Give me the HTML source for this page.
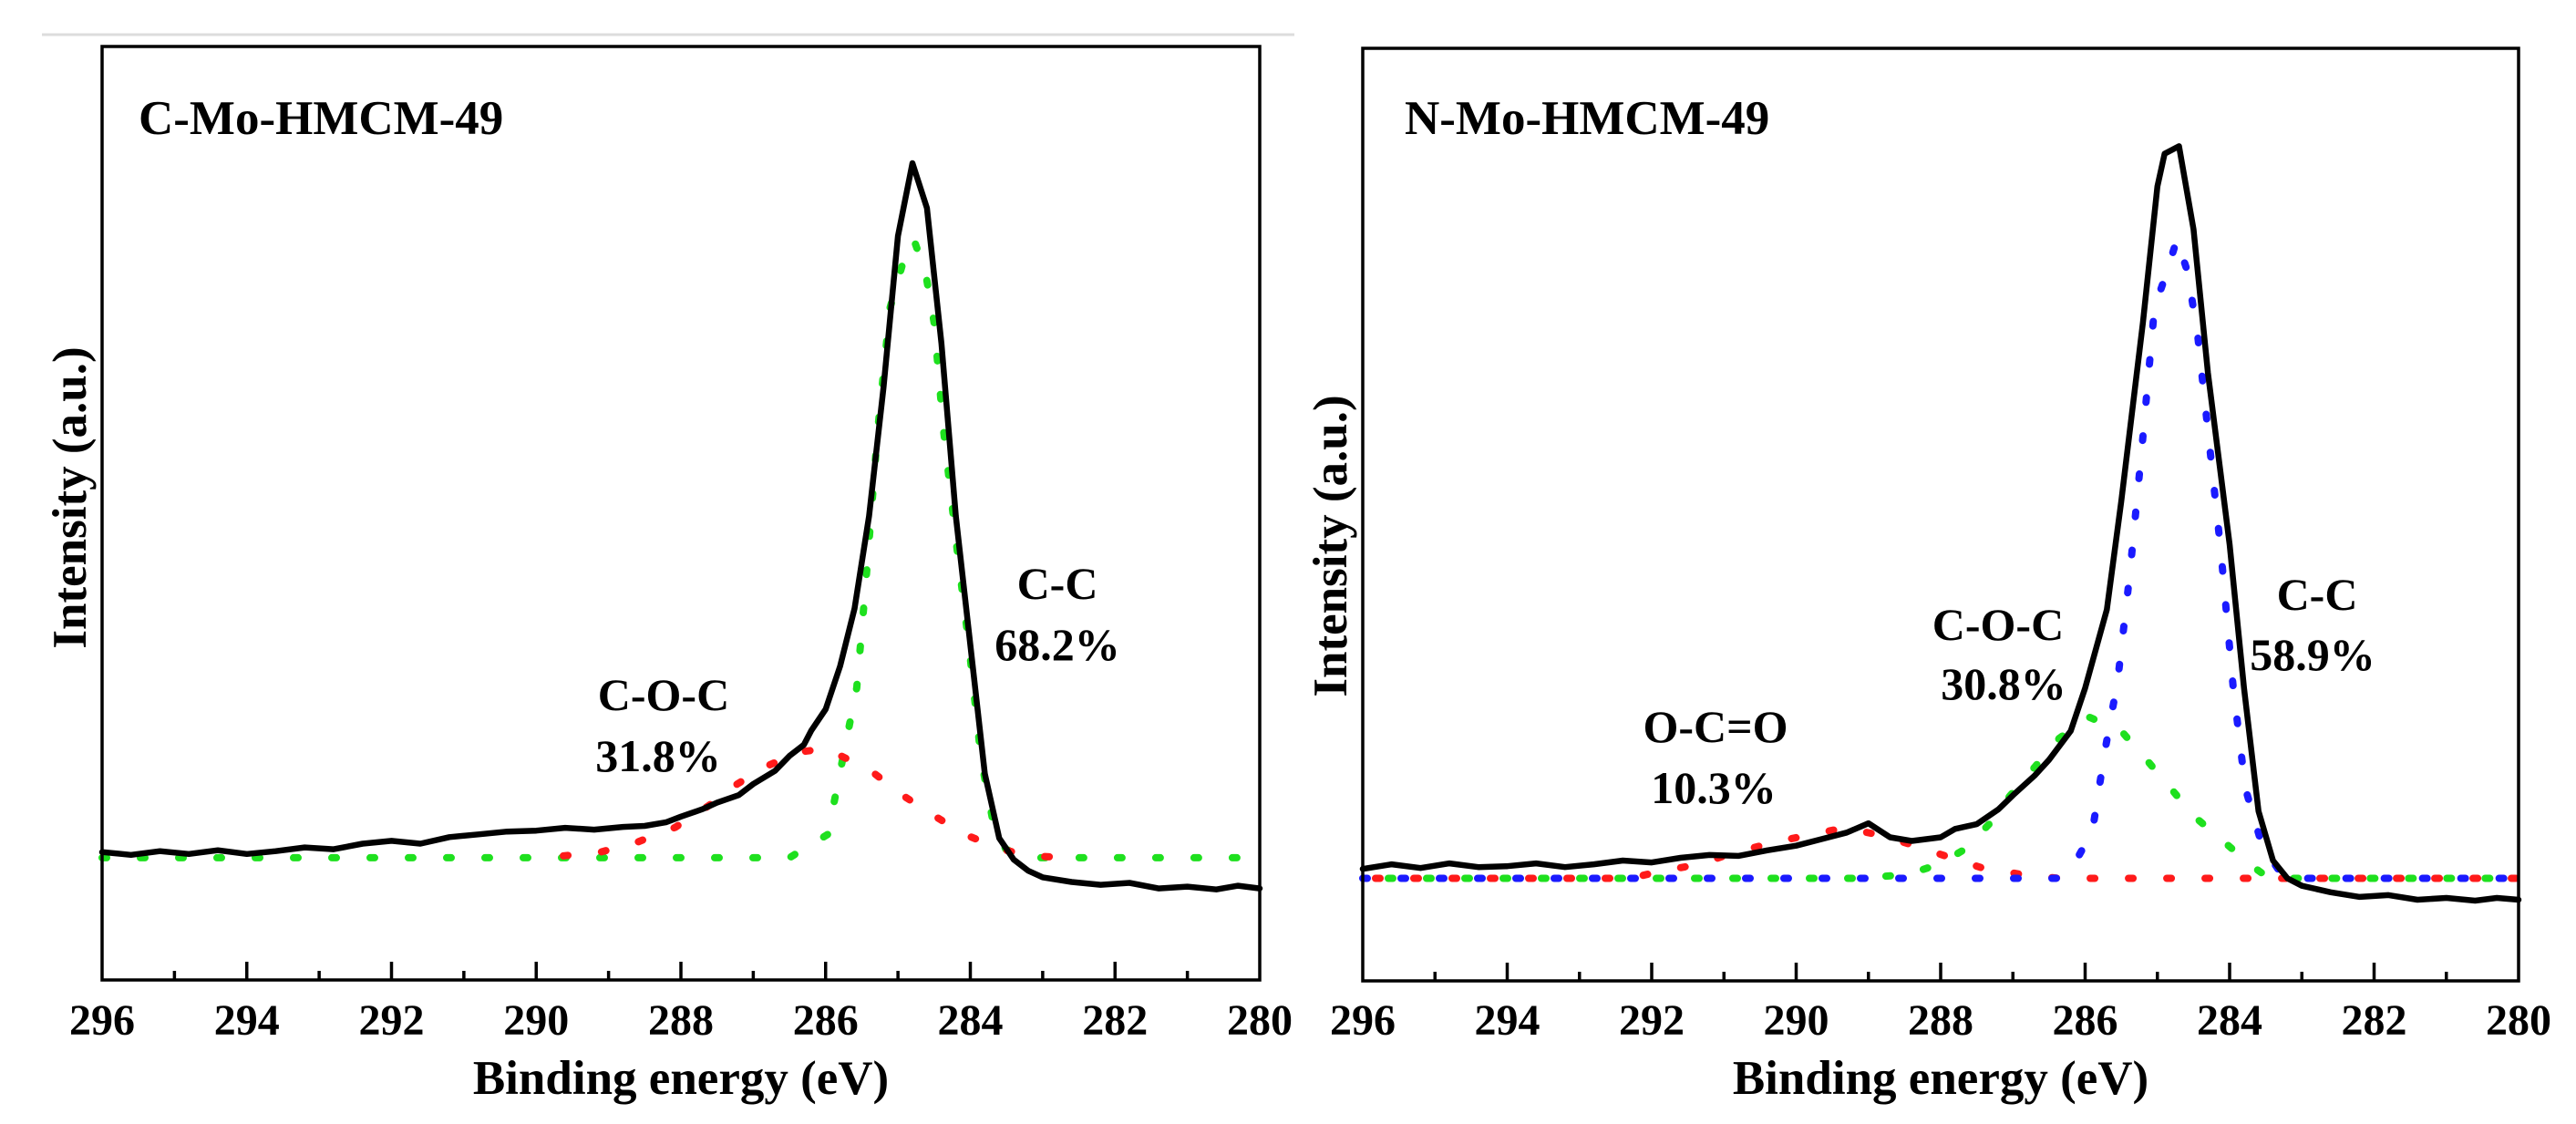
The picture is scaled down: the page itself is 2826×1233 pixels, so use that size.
<!DOCTYPE html>
<html><head><meta charset="utf-8"><style>
html,body{margin:0;padding:0;background:#fff;}
svg{display:block;}
text{font-family:"Liberation Serif",serif;font-weight:bold;fill:#000;}
</style></head><body>
<svg id="fig" width="2826" height="1233" viewBox="0 0 2826 1233" xmlns="http://www.w3.org/2000/svg">
<line x1="46" y1="38" x2="1420" y2="38" stroke="#dcdcdc" stroke-width="3"/>
</svg>
<script>
// ---------- data: left panel (C-Mo-HMCM-49) ----------
const xTicks = [296,294,292,290,288,286,284,282,280];
const leftExpE = [296,295.6,295.2,294.8,294.4,294,293.6,293.2,292.8,292.4,292,291.6,291.2,290.8,290.4,290,289.6,289.2,288.8,288.5,288.2,288,287.7,287.5,287.2,287,286.7,286.5,286.3,286.2,286,285.8,285.6,285.4,285.2,285,284.8,284.6,284.4,284.2,284,283.8,283.6,283.4,283.2,283,282.6,282.2,281.8,281.4,281,280.6,280.3,280];
const leftExpV = [13.7,13.4,13.8,13.5,13.9,13.5,13.8,14.2,14.0,14.6,14.9,14.6,15.3,15.6,15.9,16.0,16.3,16.1,16.4,16.5,16.9,17.5,18.3,19.0,19.8,21.0,22.4,24.0,25.2,26.7,29.0,33.6,39.8,49.7,63.5,79.7,87.5,82.7,68.2,49.7,35.9,22.1,15.2,12.9,11.7,11.0,10.5,10.2,10.4,9.8,10.0,9.7,10.1,9.8];
const leftCCE = [296,286.5,285.97,285.57,285.45,285.28,285.11,284.94,284.78,284.62,284.50,284.37,284.19,284.02,283.85,283.68,283.51,283.2,280];
const leftCCV = [13.1,13.1,15.6,31.3,42.0,58.9,72.0,76.6,79.3,75.8,70.4,58.9,46.6,35.9,23.6,16.7,14.0,13.1,13.1];
const leftCOCE = [289.9,289.62,289.11,288.59,288.08,287.62,287.22,286.83,286.37,286.0,285.39,284.94,284.48,284.08,283.57,283.17,282.65];
const leftCOCV = [13.1,13.3,13.7,14.8,16.35,18.65,21.0,22.85,24.4,24.8,22.5,19.8,17.5,15.6,14.0,13.3,13.1];
// ---------- data: right panel (N-Mo-HMCM-49) ----------
const rightExpE = [296,295.6,295.2,294.8,294.4,294,293.6,293.2,292.8,292.4,292,291.6,291.2,290.8,290.4,290,289.6,289.3,289,288.7,288.4,288,287.8,287.5,287.2,287,286.7,286.5,286.2,286,285.7,285.5,285.2,285,284.9,284.7,284.5,284.3,284,283.8,283.6,283.4,283.2,283,282.6,282.2,281.8,281.4,281,280.6,280.3,280];
const rightExpV = [12.0,12.5,12.1,12.6,12.2,12.3,12.6,12.2,12.5,12.9,12.7,13.2,13.5,13.4,14.0,14.5,15.3,15.9,16.9,15.4,15.0,15.4,16.3,16.8,18.4,19.9,22.0,23.7,26.8,31.4,39.8,51.4,70.6,85.2,88.7,89.5,80.6,65.2,46.8,31.4,18.2,12.9,11.0,10.2,9.5,9.0,9.2,8.7,8.9,8.6,8.9,8.7];
const rightCCE = [296,286.4,286.18,285.9,285.73,285.55,285.38,285.21,285.04,284.87,284.73,284.58,284.44,284.29,284.12,283.95,283.78,283.55,283.26,283.0,280];
const rightCCV = [11,11,12.15,16.0,24.5,32.2,43.7,57.5,72.2,76.0,79.5,76.0,69.1,58.3,46.0,31.4,20.6,14.5,11.2,11,11];
const rightCOCE = [296,289.6,289.16,288.47,288.02,287.67,287.33,287.04,286.7,286.36,285.95,285.5,285.15,284.81,284.47,284.12,283.72,283.49,283.2,280];
const rightCOCV = [11,11,11.0,11.4,12.5,14.1,16.8,19.85,22.9,26.0,28.3,26.8,23.7,20.6,17.5,15.2,12.5,11.2,11,11];
const rightOCOE = [296,292.3,291.85,291.34,290.88,290.31,289.85,289.33,288.82,288.36,287.9,287.44,286.87,286.36,286.0,280];
const rightOCOV = [11,11,11.8,12.5,13.7,14.85,15.6,16.4,15.6,14.5,13.3,12.15,11.4,11.0,11,11];

const NS = "http://www.w3.org/2000/svg";
const svg = document.getElementById('fig');
function mk(tag, attrs, parent){
  const e = document.createElementNS(NS, tag);
  for (const k in attrs) e.setAttribute(k, attrs[k]);
  (parent||svg).appendChild(e);
  return e;
}
function panel(p){
  const g = mk('g', {});
  
  
  const xs = E => p.x0 + (296 - E) / 16 * (p.x1 - p.x0);
  const ys = v => p.y1 - v / 100 * (p.y1 - p.y0);
  p.series.forEach(s => {
    const pts = s.E.map((E,i)=> xs(E).toFixed(1)+','+ys(s.V[i]).toFixed(1)).join(' ');
    const pl = mk('polyline', {points: pts, fill:'none', stroke:s.color,
      'stroke-width': s.dotted?8:6.5, 'stroke-linejoin':'round', 'stroke-linecap':'round'}, g);
    if (s.dotted){ pl.setAttribute('stroke-dasharray','5 37'); pl.setAttribute('stroke-dashoffset', s.off||0); }
    
    
  });
  const fr = mk('rect', {x:p.x0, y:p.y0, width:p.x1-p.x0, height:p.y1-p.y0, fill:'none', stroke:'#000', 'stroke-width':3.5}, g);
  
  
  for (let E = 295; E > 280; E--){
    const major = (E % 2 === 0);
    const t = mk('line', {x1:xs(E), x2:xs(E), y1:p.y1, y2:p.y1-(major?20:10), stroke:'#000','stroke-width':3.5}, g);
    
    
  }
  xTicks.forEach(E => {
    const t = mk('text', {x:xs(E), y:1135, 'font-size':48, 'text-anchor':'middle'}, g);
    t.textContent = E;
    
    
  });
  const xl = mk('text', {x:(p.x0+p.x1)/2, y:1200, 'font-size':53, 'text-anchor':'middle'}, g);
  xl.textContent = 'Binding energy (eV)';
  
  
  const yl = mk('text', {x:0, y:0, 'font-size':53, 'text-anchor':'middle',
    transform:'translate('+(p.x0-18)+','+p.ylY+') rotate(-90)'}, g);
  yl.textContent = 'Intensity (a.u.)';
  
  
  const ti = mk('text', {x:p.titleX, y:147, 'font-size':53}, g);
  ti.textContent = p.title;
  
  
  p.labels.forEach(l => {
    const t = mk('text', {x:l.x, y:l.y, 'font-size':50, 'text-anchor':'middle'}, g);
    t.textContent = l.t;
    
    
  });
}
panel({name:'left-panel', x0:112, x1:1382, y0:51, y1:1075, ylY:546, titleX:152, title:'C-Mo-HMCM-49',
  series:[
    {name:'c-c-fit', E:leftCCE, V:leftCCV, color:'#1ee01e', dotted:true, off:0},
    {name:'c-o-c-fit', E:leftCOCE, V:leftCOCV, color:'#ff1a1a', dotted:true, off:20},
    {name:'experimental-spectrum', E:leftExpE, V:leftExpV, color:'#000'}
  ],
  labels:[
    {t:'C-C', x:1160, y:657, n:'c-c-label'},
    {t:'68.2%', x:1160, y:724, n:'c-c-percent'},
    {t:'C-O-C', x:728, y:779, n:'c-o-c-label'},
    {t:'31.8%', x:722, y:846, n:'c-o-c-percent'}
  ]});
panel({name:'right-panel', x0:1495, x1:2763, y0:53, y1:1076, ylY:599, titleX:1541, title:'N-Mo-HMCM-49',
  series:[
    {name:'o-c-o-fit', E:rightOCOE, V:rightOCOV, color:'#ff1a1a', dotted:true, off:28},
    {name:'c-o-c-fit', E:rightCOCE, V:rightCOCV, color:'#1ee01e', dotted:true, off:14},
    {name:'c-c-fit', E:rightCCE, V:rightCCV, color:'#1a1aff', dotted:true, off:0},
    {name:'experimental-spectrum', E:rightExpE, V:rightExpV, color:'#000'}
  ],
  labels:[
    {t:'C-C', x:2542, y:669, n:'c-c-label'},
    {t:'58.9%', x:2537, y:735, n:'c-c-percent'},
    {t:'C-O-C', x:2192, y:702, n:'c-o-c-label'},
    {t:'30.8%', x:2198, y:767, n:'c-o-c-percent'},
    {t:'O-C=O', x:1882, y:814, n:'o-c-o-label'},
    {t:'10.3%', x:1880, y:881, n:'o-c-o-percent'}
  ]});
</script>
</body></html>
